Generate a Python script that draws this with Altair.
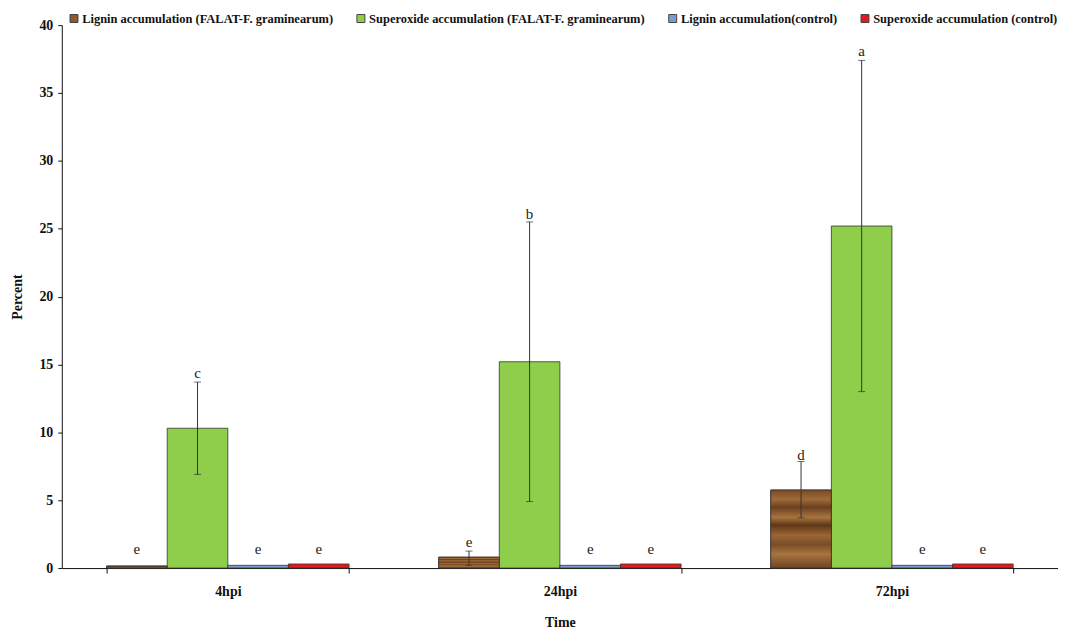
import altair as alt
import pandas as pd

times = ["4hpi", "24hpi", "72hpi"]
series = [
    "Lignin accumulation (FALAT-F. graminearum)",
    "Superoxide accumulation (FALAT-F. graminearum)",
    "Lignin accumulation(control)",
    "Superoxide accumulation (control)",
]
colors = ["#8B5A2E", "#8FCE4A", "#7C9BD0", "#E3191C"]

lignin_falat = [0.15, 0.8, 5.75]
superoxide_falat = [10.3, 15.2, 25.2]
lignin_ctrl = [0.2, 0.2, 0.2]
superoxide_ctrl = [0.3, 0.3, 0.3]

lignin_falat_lo = [None, 0.2, 3.7]
lignin_falat_hi = [None, 1.25, 7.85]
superoxide_falat_lo = [6.9, 4.9, 13.0]
superoxide_falat_hi = [13.7, 25.5, 37.4]

letters_lignin_falat = ["e", "e", "d"]
letters_superoxide_falat = ["c", "b", "a"]
letters_lignin_ctrl = ["e", "e", "e"]
letters_superoxide_ctrl = ["e", "e", "e"]

letter_pos_lignin_falat = [1.4, 1.9, 8.3]
letter_pos_superoxide_falat = [14.4, 26.1, 38.1]
letter_pos_lignin_ctrl = [1.4, 1.4, 1.4]
letter_pos_superoxide_ctrl = [1.4, 1.4, 1.4]

vals = [lignin_falat, superoxide_falat, lignin_ctrl, superoxide_ctrl]
los = [lignin_falat_lo, superoxide_falat_lo, [None] * 3, [None] * 3]
his = [lignin_falat_hi, superoxide_falat_hi, [None] * 3, [None] * 3]
lets = [letters_lignin_falat, letters_superoxide_falat, letters_lignin_ctrl, letters_superoxide_ctrl]
lpos = [letter_pos_lignin_falat, letter_pos_superoxide_falat, letter_pos_lignin_ctrl, letter_pos_superoxide_ctrl]

rows = []
for si, s in enumerate(series):
    for ti, t in enumerate(times):
        rows.append({
            "time": t, "series": s, "value": vals[si][ti],
            "lo": los[si][ti], "hi": his[si][ti],
            "letter": lets[si][ti], "lpos": lpos[si][ti],
        })
df = pd.DataFrame(rows)

FONT = "Liberation Serif"

x_enc = alt.X("time:N", sort=times, title="Time",
              scale=alt.Scale(paddingInner=0.27, paddingOuter=0.135),
              axis=alt.Axis(labelAngle=0, tickBand="extent", labelFontSize=14,
                            labelFontWeight="bold", labelFont=FONT, labelColor="#111",
                            titleFont=FONT, titleFontSize=14, titleFontWeight="bold",
                            titleColor="#111", domainColor="#111", tickColor="#111",
                            tickSize=5, labelPadding=12, titlePadding=17))
xo_enc = alt.XOffset("series:N", sort=series, scale=alt.Scale(paddingInner=0, paddingOuter=0))
y_scale = alt.Scale(domain=[0, 40])

base = alt.Chart(df)

bars = base.mark_bar(stroke="#333", strokeWidth=0.8).encode(
    x=x_enc,
    xOffset=xo_enc,
    y=alt.Y("value:Q", scale=y_scale, title="Percent",
            axis=alt.Axis(values=[0, 5, 10, 15, 20, 25, 30, 35, 40], grid=False,
                          labelFontSize=14, labelFontWeight="bold", labelFont=FONT,
                          labelColor="#111", titleFont=FONT, titleFontSize=14,
                          titleFontWeight="bold", titleColor="#111", domainColor="#111",
                          tickColor="#111", tickSize=4, labelPadding=5, titlePadding=14)),
    color=alt.Color("series:N", sort=series,
                    scale=alt.Scale(domain=series, range=colors),
                    legend=alt.Legend(orient="none", legendX=6, legendY=-13,
                                      direction="horizontal", title=None,
                                      symbolType="square", symbolSize=64,
                                      symbolStrokeColor="#444", symbolStrokeWidth=1,
                                      labelFont=FONT, labelFontSize=12.5,
                                      labelFontWeight="bold", labelColor="#111",
                                      labelLimit=500, columnPadding=21,
                                      labelOffset=2)),
)

wood = alt.LinearGradient(
    gradient="linear", x1=0, x2=0, y1=0, y2=1,
    stops=[
        alt.GradientStop(offset=0.0, color="#7a4a22"),
        alt.GradientStop(offset=0.12, color="#a06a38"),
        alt.GradientStop(offset=0.22, color="#6b4020"),
        alt.GradientStop(offset=0.35, color="#a8743e"),
        alt.GradientStop(offset=0.45, color="#5e3818"),
        alt.GradientStop(offset=0.58, color="#9c6634"),
        alt.GradientStop(offset=0.7, color="#7a4d26"),
        alt.GradientStop(offset=0.82, color="#a87440"),
        alt.GradientStop(offset=1.0, color="#6e4420"),
    ],
)

wood_bars = base.transform_filter(
    alt.datum.series == series[0]
).mark_bar(fill=wood, stroke="#333", strokeWidth=0.8).encode(
    x=alt.X("time:N", sort=times),
    xOffset=xo_enc,
    y=alt.Y("value:Q", scale=y_scale),
)

err = base.transform_filter("isValid(datum.lo)").mark_rule(color="#333", strokeWidth=1).encode(
    x=alt.X("time:N", sort=times),
    xOffset=xo_enc,
    y=alt.Y("lo:Q", scale=y_scale),
    y2="hi:Q",
)
cap_hi = base.transform_filter("isValid(datum.hi)").mark_tick(
    color="#333", thickness=1, size=7, orient="horizontal").encode(
    x=alt.X("time:N", sort=times),
    xOffset=xo_enc,
    y=alt.Y("hi:Q", scale=y_scale),
)
cap_lo = base.transform_filter("isValid(datum.lo)").mark_tick(
    color="#333", thickness=1, size=7, orient="horizontal").encode(
    x=alt.X("time:N", sort=times),
    xOffset=xo_enc,
    y=alt.Y("lo:Q", scale=y_scale),
)

letters = base.mark_text(font=FONT, fontSize=15, color="#222", baseline="middle").encode(
    x=alt.X("time:N", sort=times),
    xOffset=xo_enc,
    y=alt.Y("lpos:Q", scale=y_scale),
    text="letter:N",
)

chart = alt.layer(bars, wood_bars, err, cap_hi, cap_lo, letters).properties(
    width=1000, height=545,
    autosize=alt.AutoSizeParams(type="none"),
    padding={"left": 54, "top": 16, "right": 0, "bottom": 62},
).configure_view(stroke=None).configure_axis(grid=False)

chart.save("out.html", embed_options={"renderer": "svg", "actions": False})
